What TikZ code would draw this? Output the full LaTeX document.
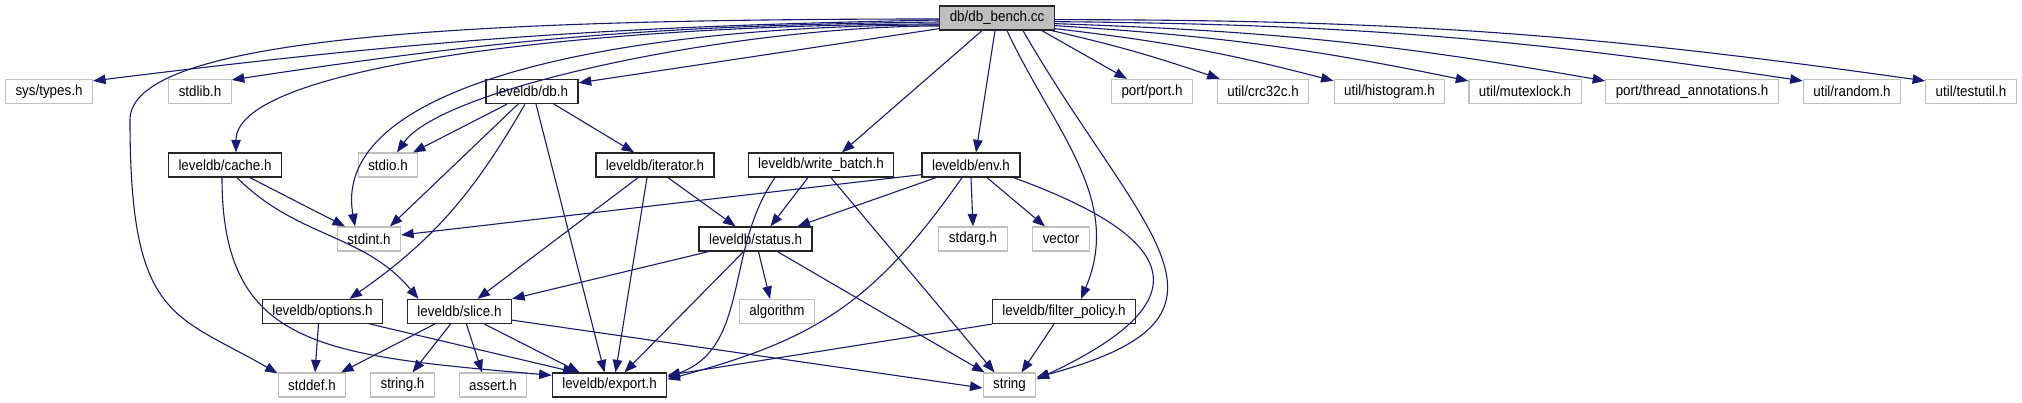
\documentclass[tikz,border=0pt]{standalone}
\usepackage{fontspec}
\setmainfont{Liberation Sans}[FakeStretch=0.91]
\usetikzlibrary{arrows.meta}
\definecolor{dxEdge}{HTML}{191970}
\definecolor{dxGray}{HTML}{BFBFBF}
\definecolor{dxInk}{HTML}{262626}

\begin{document}
\begin{tikzpicture}[
      x=1pt, y=1pt,
      font=\fontsize{14.7}{17}\selectfont,
      >={Triangle[length=12.5pt, width=9.5pt]},
      hfile/.style={draw=dxGray, line width=1.2pt, fill=white,
                  minimum height=24pt, inner xsep=10pt, inner ysep=0pt},
      docfile/.style={hfile, draw=dxInk, line width=1.3pt},
      rootfile/.style={docfile, fill=dxGray},
      dep/.style={->, dxEdge, line width=1.1pt},
    ]
    \useasboundingbox (0,0) rectangle (2022,-403);

    % ---------- nodo raiz ----------
    \node[rootfile] (bench) at (997,-18) {db/db\_bench.cc};

    % ================= fila 1 =================
    \node[hfile]   (systypes) at (49,-91.5)     {sys/types.h};
    \node[hfile]   (stdlib)   at (200,-91.5)    {stdlib.h};
    \node[docfile] (db)       at (532,-91.5)    {leveldb/db.h};
    \node[hfile]   (port)     at (1152,-91.5)   {port/port.h};
    \node[hfile]   (crc)      at (1263,-91.5)   {util/crc32c.h};
    \node[hfile]   (histo)    at (1389.5,-91.5) {util/histogram.h};
    \node[hfile]   (mutex)    at (1525,-91.5)   {util/mutexlock.h};
    \node[hfile]   (thread)   at (1692,-91.5)   {port/thread\_annotations.h};
    \node[hfile]   (random)   at (1852,-91.5)   {util/random.h};
    \node[hfile]   (testutil) at (1971,-91.5)   {util/testutil.h};

    % ================= fila 2 =================
    \node[docfile] (cache)  at (225,-165) {leveldb/cache.h};
    \node[hfile]   (stdio)  at (388,-165) {stdio.h};
    \node[docfile] (iter)   at (655,-165) {leveldb/iterator.h};
    \node[docfile] (wbatch) at (821,-165) {leveldb/write\_batch.h};
    \node[docfile] (env)    at (971,-165) {leveldb/env.h};

    % ================= fila 3 =================
    \node[hfile]   (stdint) at (369,-239)   {stdint.h};
    \node[docfile] (status) at (755.5,-239) {leveldb/status.h};
    \node[hfile]   (stdarg) at (973,-239)   {stdarg.h};
    \node[hfile]   (vector) at (1061,-239)  {vector};

    % ================= fila 4 =================
    \node[docfile] (options) at (322.5,-311.5) {leveldb/options.h};
    \node[docfile] (slice)   at (459.5,-311.5) {leveldb/slice.h};
    \node[hfile]   (algo)    at (777,-311.5)   {algorithm};
    \node[docfile] (filter)  at (1064,-311.5)  {leveldb/filter\_policy.h};

    % ================= fila 5 =================
    \node[hfile]   (stddef)  at (312,-385)    {stddef.h};
    \node[hfile]   (stringh) at (402.5,-385)  {string.h};
    \node[hfile]   (assert)  at (493,-385)    {assert.h};
    \node[docfile] (export)  at (609.5,-385)  {leveldb/export.h};
    \node[hfile]   (string)  at (1009.5,-385) {string};

    % ---------- db_bench.cc: hacia la izquierda ----------
    \draw[dep] ([yshift=-2pt]bench.west) to[bend right=3] ([yshift=-2pt]systypes.north east);
    \draw[dep] ([yshift=-4pt]bench.west) to[bend right=4] ([yshift=-1pt]stdlib.north east);
    \draw[dep] ([yshift=2pt]bench.south west) -- ([yshift=-4pt]db.north east);
    \draw[dep] ([yshift=-6pt]bench.west)
      to[out=180, in=90, out distance=320pt, in distance=90pt] ([xshift=11pt]cache.north);
    \draw[dep] ([yshift=-7pt]bench.west)
      to[out=180, in=100, out distance=300pt, in distance=150pt] ([xshift=-14pt]stdint.north);
    \draw[dep] ([yshift=-8pt]bench.west)
      to[out=180, in=55, out distance=200pt, in distance=80pt] ([xshift=9pt]stdio.north);
    \draw[dep] ([yshift=-1pt]bench.west)
      to[out=180, in=90, out distance=500pt, in distance=80pt] (130,-120)
      to[out=-90, in=150, out distance=200pt, in distance=120pt] ([yshift=-1pt]stddef.north west);

    % ---------- db_bench.cc: hacia abajo ----------
    \draw[dep] ([xshift=-15pt]bench.south) -- ([xshift=21pt]wbatch.north);
    \draw[dep] ([xshift=-2pt]bench.south)  -- ([xshift=5pt]env.north);
    \draw[dep] ([xshift=10pt]bench.south) to[out=-65, in=67] ([xshift=17pt]filter.north);
    \draw[dep] ([xshift=26pt]bench.south) to[out=-60, in=15, looseness=1.75] ([yshift=-5pt]string.north east);

    % ---------- db_bench.cc: hacia la derecha ----------
    \draw[dep] ([xshift=-13pt]bench.south east) -- ([xshift=16pt]port.north west);
    \draw[dep] ([xshift=-3pt]bench.south east) to[bend left=3] ([xshift=3pt]crc.north west);
    \foreach \n/\dy in {histo/2pt, mutex/5pt, thread/7pt, random/9pt, testutil/11pt}
      \draw[dep] ([yshift=\dy]bench.south east) to[bend left=4] ([yshift=-2pt]\n.north west);

    % ---------- leveldb/db.h ----------
    \draw[dep] ([xshift=-25pt]db.south) -- ([xshift=25pt]stdio.north);
    \draw[dep] ([xshift=-14pt]db.south) -- ([xshift=21pt]stdint.north);
    \draw[dep] ([xshift=-7pt]db.south) to[out=-120, in=35] ([xshift=27pt]options.north);
    \draw[dep] ([xshift=4pt]db.south)   -- ([xshift=-5pt]export.north);
    \draw[dep] ([xshift=22pt]db.south)  -- ([xshift=-21pt]iter.north);

    % ---------- leveldb/cache.h ----------
    \draw[dep] ([xshift=25pt]cache.south) -- ([xshift=-24pt]stdint.north);
    \draw[dep] ([xshift=12pt]cache.south) to[out=-45, in=130] ([xshift=-41pt]slice.north);
    \draw[dep] ([xshift=-3pt]cache.south)
      to[out=-90, in=175, out distance=170pt, in distance=230pt] ([yshift=-3pt]export.north west);

    % ---------- leveldb/iterator.h ----------
    \draw[dep] ([xshift=-17pt]iter.south) -- ([xshift=18pt]slice.north);
    \draw[dep] ([xshift=-8pt]iter.south)  -- ([xshift=6pt]export.north);
    \draw[dep] ([xshift=13pt]iter.south)  -- ([xshift=-20pt]status.north);

    % ---------- leveldb/write_batch.h ----------
    \draw[dep] ([xshift=-13pt]wbatch.south) -- ([xshift=15pt]status.north);
    \draw[dep] ([xshift=-46pt]wbatch.south) to[out=-125, in=20] ([yshift=-5pt]export.north east);
    \draw[dep] ([xshift=10pt]wbatch.south)  -- ([xshift=-15pt]string.north);

    % ---------- leveldb/env.h ----------
    \draw[dep] ([yshift=3pt]env.south west) -- ([yshift=4pt]stdint.east);
    \draw[dep] ([xshift=-35pt]env.south) -- ([xshift=42pt]status.north);
    \draw[dep] ([xshift=-9pt]env.south) to[out=-125, in=15, looseness=1.1] ([yshift=-7pt]export.north east);
    \draw[dep] (env.south) -- (stdarg.north);
    \draw[dep] ([xshift=16pt]env.south) -- ([xshift=-16pt]vector.north);
    \draw[dep] ([xshift=-7pt]env.south east) to[out=-20, in=25, looseness=2.3] ([yshift=-7pt]string.north east);

    % ---------- leveldb/status.h ----------
    \draw[dep] ([xshift=10pt]status.south west) -- (slice.north east);
    \draw[dep] ([xshift=3pt]status.south)   -- ([xshift=-7pt]algo.north);
    \draw[dep] ([xshift=-12pt]status.south) -- ([xshift=15pt]export.north);
    \draw[dep] ([xshift=22pt]status.south)  -- ([xshift=-25pt]string.north);

    % ---------- leveldb/options.h y leveldb/slice.h ----------
    \draw[dep] ([xshift=-4pt]options.south) -- ([xshift=3pt]stddef.north);
    \draw[dep] ([xshift=48pt]options.south) -- ([xshift=-34pt]export.north);
    \draw[dep] ([xshift=-25pt]slice.south) -- ([xshift=29pt]stddef.north);
    \draw[dep] ([xshift=-9pt]slice.south)  -- ([xshift=10pt]stringh.north);
    \draw[dep] ([xshift=7pt]slice.south)   -- ([xshift=-11pt]assert.north);
    \draw[dep] ([xshift=25pt]slice.south)  -- ([xshift=-30pt]export.north);
    \draw[dep] ([yshift=4pt]slice.south east) -- ([yshift=-3pt]string.west);

    % ---------- leveldb/filter_policy.h ----------
    \draw[dep] (filter.south west) -- ([yshift=-3pt]export.north east);
    \draw[dep] ([xshift=-10pt]filter.south) -- ([xshift=12pt]string.north);

  \end{tikzpicture}
\end{document}
